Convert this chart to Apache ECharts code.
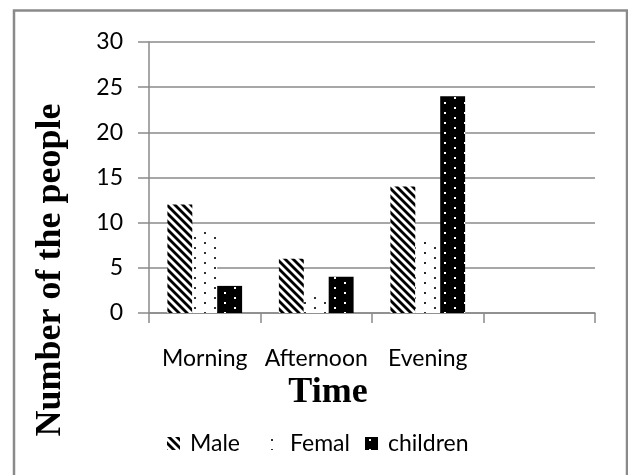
<!DOCTYPE html>
<html>
<head>
<meta charset="utf-8">
<script src="https://cdn.jsdelivr.net/npm/echarts@6/dist/echarts.min.js"></script>
<style>
html,body{margin:0;padding:0;background:#fff;}
#chart{width:628px;height:475px;}
</style>
</head>
<body>
<div id="chart"></div>
<script>
// ---- data ----
const categories = ['Morning', 'Afternoon', 'Evening', ''];
const maleValues = [12, 6, 14, null];
const femalValues = [9, 2, 8, null];
const childrenValues = [3, 4, 24, null];
const yTicks = [0, 5, 10, 15, 20, 25, 30];
const seriesNames = ['Male', 'Femal', 'children'];

// ---- patterns ----
function stripePattern() {
  const c = document.createElement('canvas');
  c.width = 8; c.height = 8;
  const ctx = c.getContext('2d');
  const img = ctx.createImageData(8, 8);
  for (let y = 0; y < 8; y++) {
    for (let x = 0; x < 8; x++) {
      const d = (((x - y) % 8) + 8) % 8;
      let v = d < 4 ? 0 : 255;
      if (d === 0 || d === 4) v = 128;
      const i = (y * 8 + x) * 4;
      img.data[i] = v; img.data[i + 1] = v; img.data[i + 2] = v; img.data[i + 3] = 255;
    }
  }
  ctx.putImageData(img, 0, 0);
  return c;
}
function dotPattern(bg, fg) {
  const c = document.createElement('canvas');
  c.width = 20; c.height = 10;
  const ctx = c.getContext('2d');
  ctx.fillStyle = bg; ctx.fillRect(0, 0, 20, 10);
  ctx.fillStyle = fg;
  ctx.fillRect(4, 2, 2, 2);
  ctx.fillRect(14, 7, 2, 2);
  return c;
}
const malePat = { image: stripePattern(), repeat: 'repeat' };
const femalPat = { image: dotPattern('#ffffff', '#333333'), repeat: 'repeat' };
const childPat = { image: dotPattern('#000000', '#ffffff'), repeat: 'repeat' };

const chart = echarts.init(document.getElementById('chart'));
const sansFont = 'Lato';
const legendLefts = [167, 267, 365];
chart.setOption({
  animation: false,
  backgroundColor: '#ffffff',
  grid: { left: 149, right: 33, top: 42, bottom: 162, containLabel: false },
  xAxis: {
    type: 'category',
    data: categories,
    boundaryGap: true,
    axisLine: { show: true, lineStyle: { color: '#8a8a8a', width: 1.5 } },
    axisTick: { show: true, interval: 0, length: 10, lineStyle: { color: '#8a8a8a', width: 1.5 } },
    axisLabel: { interval: 0, margin: 34, color: '#000', fontFamily: sansFont, fontSize: 23 }
  },
  yAxis: {
    type: 'value',
    min: yTicks[0],
    max: yTicks[yTicks.length - 1],
    interval: 5,
    axisLine: { show: true, lineStyle: { color: '#8a8a8a', width: 1.5 } },
    axisTick: { show: true, length: 11, lineStyle: { color: '#8a8a8a', width: 1.5 } },
    splitLine: { show: true, lineStyle: { color: '#8a8a8a', width: 1.5 } },
    axisLabel: { margin: 26, color: '#000', fontFamily: sansFont, fontSize: 23 }
  },
  legend: seriesNames.map((n, i) => ({
    data: [n],
    left: legendLefts[i],
    top: 432,
    padding: 0,
    itemWidth: 13,
    itemHeight: 13,
    icon: 'rect',
    textStyle: { color: '#000', fontFamily: sansFont, fontSize: 23, padding: [0, 0, 0, 5] }
  })),
  series: [
    { name: seriesNames[0], type: 'bar', data: maleValues, barGap: '0%', barCategoryGap: '33%', itemStyle: { color: malePat } },
    { name: seriesNames[1], type: 'bar', data: femalValues, barGap: '0%', barCategoryGap: '33%', itemStyle: { color: femalPat } },
    { name: seriesNames[2], type: 'bar', data: childrenValues, barGap: '0%', barCategoryGap: '33%', itemStyle: { color: childPat } }
  ],
  graphic: [
    { type: 'rect', shape: { x: 14, y: 10.5, width: 613, height: 500 }, style: { fill: 'none', stroke: '#8a8a8a', lineWidth: 2.5 }, z: 100 },
    { type: 'text', x: 328, y: 393, style: { text: 'Time', font: 'bold 36px "Liberation Serif"', fill: '#000', textAlign: 'center', textVerticalAlign: 'middle' } },
    { type: 'text', x: 51, y: 270, rotation: Math.PI / 2, style: { text: 'Number of the people', font: 'bold 36px "Liberation Serif"', fill: '#000', textAlign: 'center', textVerticalAlign: 'middle' } }
  ]
});
</script>
</body>
</html>
